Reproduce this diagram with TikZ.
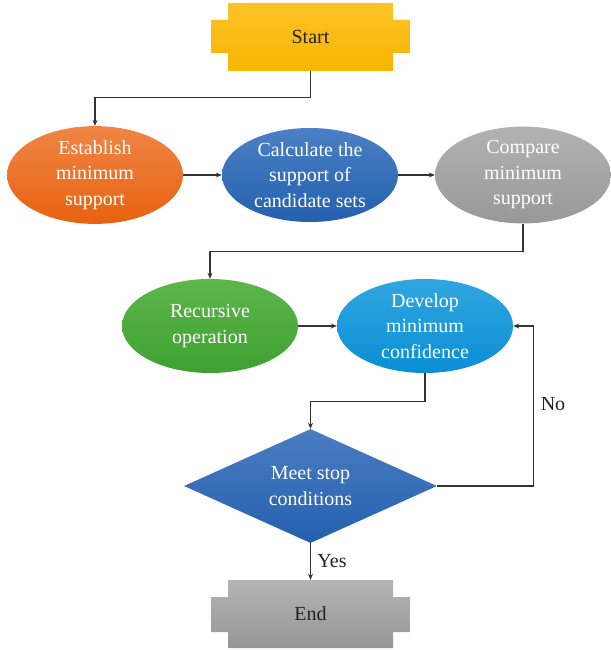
\documentclass[tikz,border=0pt]{standalone}
\usepackage{fontspec}
\setmainfont{Liberation Serif}
\usetikzlibrary{shapes.geometric,arrows.meta}
\definecolor{linec}{HTML}{333333}
\definecolor{txtd}{HTML}{222222}
\begin{document}
\begin{tikzpicture}[x=1pt,y=-1pt,
  every node/.style={font=\fontsize{20}{25.5}\selectfont, align=center},
  oval/.style={ellipse, minimum width=176pt, minimum height=94pt, inner sep=0pt, text=white},
  term/.style={rectangle, minimum width=165pt, minimum height=68pt, inner sep=0pt, text=txtd},
  arr/.style={draw=linec, line width=1.1pt, -{Stealth[length=6pt,width=5pt]}},
  lbl/.style={text=txtd}
]
\useasboundingbox (0,0) rectangle (610,650);
% Start shape
\path[top color={rgb,255:red,252;green,194;blue,40}, bottom color={rgb,255:red,248;green,182;blue,0}]
  (228,3) -- (393,3) -- (393,20) -- (410,20) -- (410,53) -- (393,53) -- (393,71)
  -- (228,71) -- (228,53) -- (211,53) -- (211,20) -- (228,20) -- cycle;
\node[term] (start) at (310.5,37) {Start};
% End shape
\path[top color={rgb,255:red,180;green,180;blue,180}, bottom color={rgb,255:red,150;green,150;blue,150}]
  (228,580) -- (393,580) -- (393,597) -- (410,597) -- (410,632) -- (393,632) -- (393,648)
  -- (228,648) -- (228,632) -- (211,632) -- (211,597) -- (228,597) -- cycle;
\node[term] (end) at (310.5,614) {End};
% Ellipses
\node[oval, top color={rgb,255:red,239;green,133;blue,70}, bottom color={rgb,255:red,232;green,98;blue,15}]
  (est) at (95,175) {Establish\\minimum\\support};
\node[oval, top color={rgb,255:red,74;green,128;blue,196}, bottom color={rgb,255:red,36;green,96;blue,174}]
  (calc) at (310,175) {Calculate the\\support of\\candidate sets};
\node[oval, top color={rgb,255:red,178;green,178;blue,178}, bottom color={rgb,255:red,152;green,152;blue,152}]
  (cmp) at (523,175) {Compare\\minimum\\support};
\node[oval, top color={rgb,255:red,93;green,183;blue,74}, bottom color={rgb,255:red,62;green,160;blue,50}]
  (rec) at (210,326) {Recursive\\operation};
\node[oval, top color={rgb,255:red,48;green,166;blue,224}, bottom color={rgb,255:red,10;green,142;blue,212}]
  (dev) at (425,326) {Develop\\minimum\\confidence};
% Diamond
\node[diamond, minimum width=253pt, minimum height=114pt, inner sep=0pt, aspect=2.2, text=white,
  top color={rgb,255:red,74;green,125;blue,194}, bottom color={rgb,255:red,36;green,96;blue,174}]
  (dia) at (310.5,486) {Meet stop\\conditions};
% Connectors
\draw[arr] (start.south) -- ++(0,26) -| (est.north);
\draw[arr] (est.east) -- (calc.west);
\draw[arr] (calc.east) -- (cmp.west);
\draw[arr] (cmp.south) -- ++(0,28) -| (rec.north);
\draw[arr] (rec.east) -- (dev.west);
\draw[arr] (dev.south) -- ++(0,28) -| (dia.north);
\draw[arr] (dia.east) -- ++(96,0) |- (dev.east);
\draw[arr] (dia.south) -- (end.north);
% Labels
\node[lbl] (no) at (553,404) {No};
\node[lbl] (yes) at (332,561) {Yes};
\end{tikzpicture}
\end{document}
